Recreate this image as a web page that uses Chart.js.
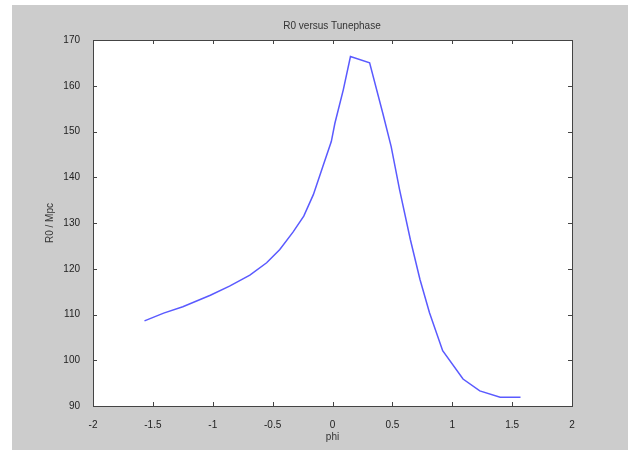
<!DOCTYPE html>
<html>
<head>
<meta charset="utf-8">
<script src="https://cdn.jsdelivr.net/npm/chart.js@4"></script>
<style>
    body { margin: 0; background: #fff; }
    canvas { display: block; }
</style>
</head>
<body>
<canvas id="myChart" width="643" height="450"></canvas>
<script>
// tune phase (rad) and resulting R0 (Mpc)
const phi = [-1.57, -1.41, -1.25, -1.02, -0.86, -0.69, -0.55, -0.44, -0.33, -0.24,
    -0.16, -0.08, -0.01, 0.02, 0.09, 0.15, 0.31, 0.42, 0.49, 0.56,
    0.65, 0.73, 0.81, 0.92, 1.09, 1.23, 1.40, 1.57];
const r0 = [108.6, 110.3, 111.7, 114.2, 116.2, 118.6, 121.3, 124.2, 128.0, 131.5,
    136.2, 142.4, 147.8, 151.8, 159.1, 166.4, 165.0, 154.0, 146.7, 137.3,
    126.4, 117.7, 110.4, 102.1, 95.9, 93.3, 91.9, 91.9];

const xTicks = [-2, -1.5, -1, -0.5, 0, 0.5, 1, 1.5, 2];
const yTicks = [90, 100, 110, 120, 130, 140, 150, 160, 170];

const points = phi.map((p, i) => ({ x: p, y: r0[i] }));

const labelFont = { family: 'Liberation Sans', size: 10 };

// gray figure background, white axes box, inward ticks on all four sides
const matlabFrame = {
    id: 'matlabFrame',
    beforeDraw(chart) {
        const ctx = chart.ctx;
        const a = chart.chartArea;
        ctx.save();
        ctx.fillStyle = '#ffffff';
        ctx.fillRect(0, 0, chart.width, chart.height);
        ctx.fillStyle = '#cccccc';
        ctx.fillRect(12, 5, 616, 445);
        ctx.fillStyle = '#ffffff';
        ctx.fillRect(a.left, a.top, a.right - a.left, a.bottom - a.top);
        ctx.restore();
    },
    afterDraw(chart) {
        const ctx = chart.ctx;
        const a = chart.chartArea;
        const xs = chart.scales.x;
        const ys = chart.scales.y;
        const len = 4;
        ctx.save();
        ctx.strokeStyle = '#444444';
        ctx.lineWidth = 1;
        ctx.beginPath();
        xTicks.forEach(v => {
            const px = Math.round(xs.getPixelForValue(v)) + 0.5;
            ctx.moveTo(px, a.bottom);
            ctx.lineTo(px, a.bottom - len);
            ctx.moveTo(px, a.top);
            ctx.lineTo(px, a.top + len);
        });
        yTicks.forEach(v => {
            const py = Math.round(ys.getPixelForValue(v)) + 0.5;
            ctx.moveTo(a.left, py);
            ctx.lineTo(a.left + len, py);
            ctx.moveTo(a.right, py);
            ctx.lineTo(a.right - len, py);
        });
        ctx.stroke();
        ctx.strokeRect(Math.round(a.left) + 0.5, Math.round(a.top) + 0.5,
            Math.round(a.right - a.left), Math.round(a.bottom - a.top));
        ctx.restore();
    }
};

const ctx = document.getElementById('myChart').getContext('2d');
const myChart = new Chart(ctx, {
    type: 'scatter',
    data: {
        datasets: [{
            data: points,
            showLine: true,
            borderColor: '#5a5aff',
            borderWidth: 1.5,
            pointRadius: 0,
            tension: 0
        }]
    },
    options: {
        responsive: false,
        animation: false,
        layout: {
            padding: { left: 21, right: 0, top: 0, bottom: 0 }
        },
        plugins: {
            legend: { display: false },
            tooltip: { enabled: false },
            title: {
                display: true,
                text: 'R0 versus Tunephase',
                color: '#333333',
                font: { family: 'Liberation Sans', size: 10, weight: 'normal' },
                padding: { top: 20, bottom: 8 }
            }
        },
        scales: {
            x: {
                type: 'linear',
                min: -2,
                max: 2,
                grid: { display: false },
                border: { display: false },
                afterBuildTicks(scale) {
                    scale.ticks = xTicks.map(v => ({ value: v }));
                },
                afterFit(scale) {
                    scale.height = 44;
                },
                ticks: {
                    color: '#222222',
                    padding: 5,
                    maxRotation: 0,
                    autoSkip: false,
                    font: labelFont,
                    callback: v => String(v)
                },
                title: {
                    display: true,
                    text: 'phi',
                    color: '#333333',
                    font: labelFont,
                    padding: { top: 0, bottom: 7 }
                }
            },
            y: {
                min: 90,
                max: 170,
                grid: { display: false },
                border: { display: false },
                afterBuildTicks(scale) {
                    scale.ticks = yTicks.map(v => ({ value: v }));
                },
                afterFit(scale) {
                    scale.width = 72;
                },
                ticks: {
                    color: '#222222',
                    padding: 5,
                    autoSkip: false,
                    font: labelFont,
                    callback: v => String(v)
                },
                title: {
                    display: true,
                    text: 'R0 / Mpc',
                    color: '#333333',
                    font: labelFont,
                    padding: { top: 23, bottom: 0 }
                }
            },
            // empty right-hand axis, only reserves the margin beside the box
            yRight: {
                position: 'right',
                min: 90,
                max: 170,
                grid: { display: false },
                border: { display: false },
                ticks: { display: false },
                afterFit(scale) {
                    scale.width = 71;
                }
            }
        }
    },
    plugins: [matlabFrame]
});
</script>
</body>
</html>
